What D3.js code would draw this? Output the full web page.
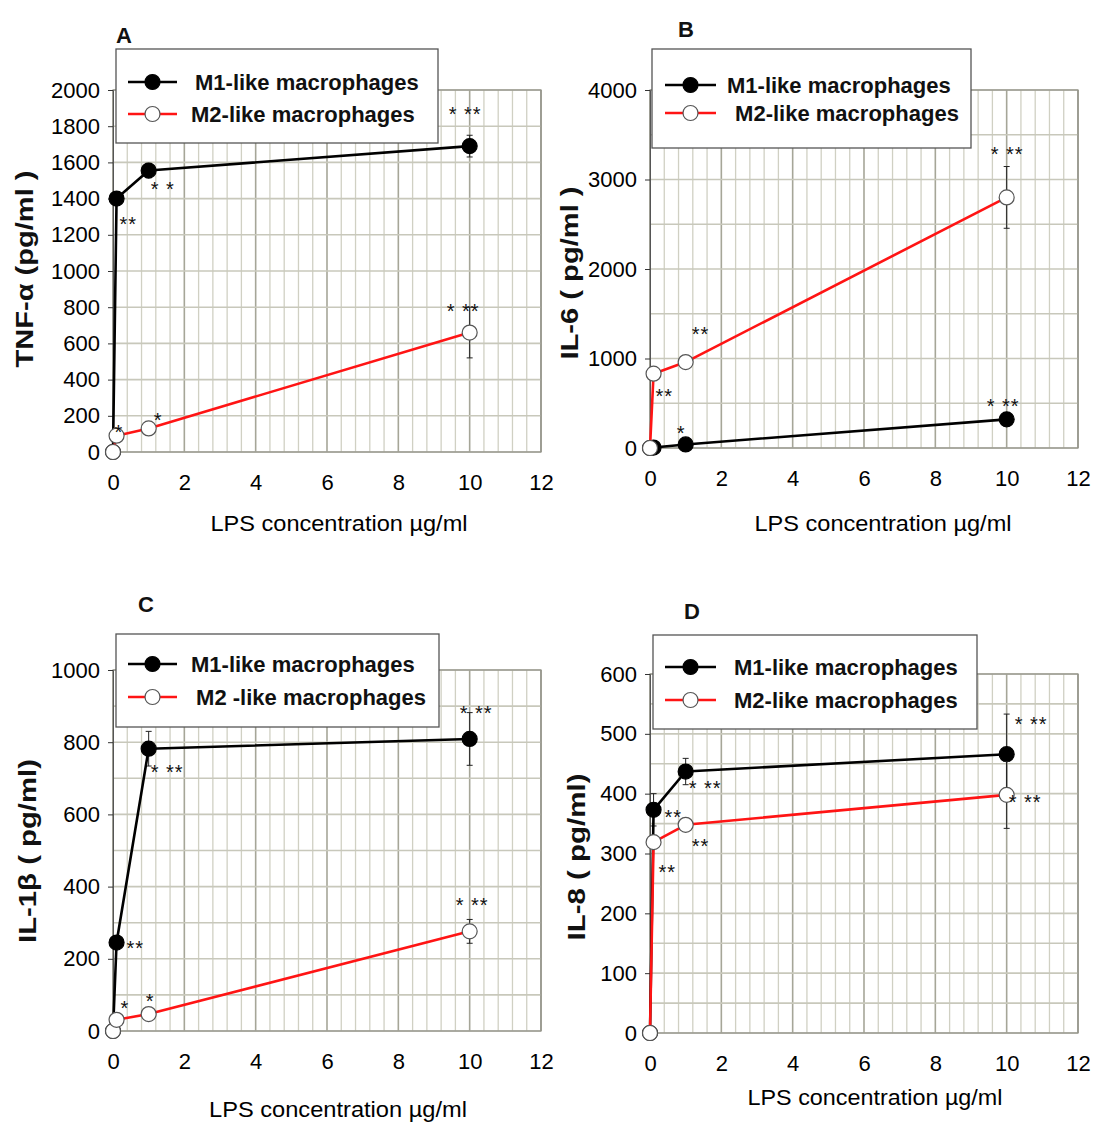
<!DOCTYPE html>
<html>
<head>
<meta charset="utf-8">
<script src="https://cdn.jsdelivr.net/npm/d3@7"></script>
<style>
  html, body { margin: 0; padding: 0; background: #fff; }
  svg { display: block; font-family: "Liberation Sans", Arial, Helvetica, sans-serif; }
</style>
</head>
<body>
<svg id="chart" width="1094" height="1124"></svg>
<script>
// LPS doses (µg/ml) shared by all four cytokine panels
const conc = [0, 0.1, 1, 10];
const xTickValues = [0, 2, 4, 6, 8, 10, 12];

// TNF-α (pg/ml)
const tnfM1 = [0, 1400, 1555, 1690];
const tnfM1Err = [0, 0, 40, 60];
const tnfM2 = [0, 90, 130, 660];
const tnfM2Err = [0, 0, 0, 140];
const tnfM1Sig = ["", "**", "* *", "* **"];
const tnfM2Sig = ["", "*", "*", "* **"];
const tnfTicks = [0, 200, 400, 600, 800, 1000, 1200, 1400, 1600, 1800, 2000];

// IL-6 (pg/ml)
const il6M1 = [0, 5, 40, 320];
const il6M1Err = [0, 0, 0, 0];
const il6M2 = [0, 830, 960, 2800];
const il6M2Err = [0, 0, 0, 345];
const il6M1Sig = ["", "", "*", "* **"];
const il6M2Sig = ["", "**", "**", "* **"];
const il6Ticks = [0, 1000, 2000, 3000, 4000];

// IL-1β (pg/ml)
const il1bM1 = [0, 245, 782, 809];
const il1bM1Err = [0, 0, 48, 73];
const il1bM2 = [0, 31, 47, 276];
const il1bM2Err = [0, 0, 0, 33];
const il1bM1Sig = ["", "**", "* **", "* **"];
const il1bM2Sig = ["", "*", "*", "* **"];
const il1bTicks = [0, 200, 400, 600, 800, 1000];

// IL-8 (pg/ml)
const il8M1 = [0, 373, 437, 466];
const il8M1Err = [0, 27, 22, 67];
const il8M2 = [0, 319, 348, 398];
const il8M2Err = [0, 0, 0, 56];
const il8M1Sig = ["", "**", "* **", "* **"];
const il8M2Sig = ["", "**", "**", "* **"];
const il8Ticks = [0, 100, 200, 300, 400, 500, 600];

const xTitle = "LPS concentration \u00b5g/ml";

// Layout of each panel
const panels = [
  {
    letter: "A", letterPos: [116, 43],
    box: { left: 113, right: 541, top: 90, bottom: 452 },
    yMax: 2000, gridStep: 200, ticks: tnfTicks,
    yTitle: "TNF-\u03b1 (pg/ml )", yTitlePos: [33, 269], yTitleLen: 197,
    xTitlePos: [339, 531], xTitleLen: 257,
    legend: { x: 116, y: 49, w: 322, h: 94, x1: 128, x2: 177, rows: [82, 114], textX: [195, 191],
              labels: ["M1-like macrophages", "M2-like macrophages"] },
    m1: tnfM1, m1Err: tnfM1Err, m1Sig: tnfM1Sig,
    m2: tnfM2, m2Err: tnfM2Err, m2Sig: tnfM2Sig,
    m1SigOff: [null, [3, 21], [2, 14], [-21, -36]],
    m2SigOff: [null, [-2, -8], [5, -12], [-23, -26]]
  },
  {
    letter: "B", letterPos: [678, 37],
    box: { left: 650, right: 1078, top: 90, bottom: 448 },
    yMax: 4000, gridStep: 500, ticks: il6Ticks,
    yTitle: "IL-6 ( pg/ml )", yTitlePos: [578, 273], yTitleLen: 173,
    xTitlePos: [883, 531], xTitleLen: 257,
    legend: { x: 652, y: 49, w: 319, h: 99, x1: 665, x2: 716, rows: [85, 113], textX: [727, 729],
              labels: ["M1-like macrophages", "\u00a0M2-like macrophages"] },
    m1: il6M1, m1Err: il6M1Err, m1Sig: il6M1Sig,
    m2: il6M2, m2Err: il6M2Err, m2Sig: il6M2Sig,
    m1SigOff: [null, null, [-9, -15], [-20, -17]],
    m2SigOff: [null, [2, 18], [6, -32], [-16, -47]]
  },
  {
    letter: "C", letterPos: [138, 612],
    box: { left: 113, right: 541, top: 670, bottom: 1031 },
    yMax: 1000, gridStep: 100, ticks: il1bTicks,
    yTitle: "IL-1\u03b2 ( pg/ml)", yTitlePos: [36, 851], yTitleLen: 184,
    xTitlePos: [338, 1117], xTitleLen: 258,
    legend: { x: 116, y: 634, w: 323, h: 93, x1: 128, x2: 177, rows: [664, 697], textX: [191, 190],
              labels: ["M1-like macrophages", "\u00a0M2 -like macrophages"] },
    m1: il1bM1, m1Err: il1bM1Err, m1Sig: il1bM1Sig,
    m2: il1bM2, m2Err: il1bM2Err, m2Sig: il1bM2Sig,
    m1SigOff: [null, [10, 1], [2, 19], [-10, -30]],
    m2SigOff: [null, [4, -16], [-3, -17], [-14, -30]]
  },
  {
    letter: "D", letterPos: [684, 619],
    box: { left: 650, right: 1078, top: 674, bottom: 1033 },
    yMax: 600, gridStep: 50, ticks: il8Ticks,
    yTitle: "IL-8 ( pg/ml)", yTitlePos: [585, 857], yTitleLen: 167,
    xTitlePos: [875, 1105], xTitleLen: 255,
    legend: { x: 653, y: 635, w: 324, h: 94, x1: 665, x2: 716, rows: [667, 700], textX: [734, 734],
              labels: ["M1-like macrophages", "M2-like macrophages"] },
    m1: il8M1, m1Err: il8M1Err, m1Sig: il8M1Sig,
    m2: il8M2, m2Err: il8M2Err, m2Sig: il8M2Sig,
    m1SigOff: [null, [11, 3], [3, 12], [8, -34]],
    m2SigOff: [null, [5, 26], [6, 17], [2, 3]]
  }
];

const RED = "#ff1414";
const svg = d3.select("#chart");

panels.forEach(p => {
  const g = svg.append("g");
  const x = d3.scaleLinear().domain([0, 12]).range([p.box.left, p.box.right]);
  const y = d3.scaleLinear().domain([0, p.yMax]).range([p.box.bottom, p.box.top]);

  // grid: fine vertical lines every 0.4, stronger ones at every 2
  const vMinor = d3.range(0, 12.0001, 0.4).map(v => +v.toFixed(1));
  g.append("g").selectAll("line").data(vMinor).join("line")
    .attr("x1", d => x(d)).attr("x2", d => x(d))
    .attr("y1", y(0)).attr("y2", y(p.yMax))
    .attr("stroke", d => (Math.abs(d % 2) < 1e-6 ? "#a6a698" : "#d0d0c3"))
    .attr("stroke-width", d => (Math.abs(d % 2) < 1e-6 ? 1.6 : 1.3));

  const hLines = d3.range(0, p.yMax + 0.001, p.gridStep);
  g.append("g").selectAll("line").data(hLines).join("line")
    .attr("x1", x(0)).attr("x2", x(12))
    .attr("y1", d => y(d)).attr("y2", d => y(d))
    .attr("stroke", "#c8c8bb").attr("stroke-width", 1.6);

  // plot frame
  g.append("rect")
    .attr("x", x(0)).attr("y", y(p.yMax))
    .attr("width", x(12) - x(0)).attr("height", y(0) - y(p.yMax))
    .attr("fill", "none").attr("stroke", "#8d8d84").attr("stroke-width", 1.2);

  // y axis
  const yAxis = g.append("g").attr("transform", `translate(${x(0)},0)`)
    .call(d3.axisLeft(y).tickValues(p.ticks).tickSize(5).tickPadding(8).tickFormat(d3.format("d")));
  yAxis.select(".domain").attr("stroke", "#555");
  yAxis.selectAll(".tick line").attr("stroke", "#333");
  yAxis.selectAll("text").attr("font-size", 22).attr("fill", "#000");

  // x axis labels
  const xAxis = g.append("g").attr("transform", `translate(0,${y(0)})`)
    .call(d3.axisBottom(x).tickValues(xTickValues).tickSize(0).tickPadding(22).tickFormat(d3.format("d")));
  xAxis.select(".domain").remove();
  xAxis.selectAll("text").attr("font-size", 22).attr("fill", "#000");

  // axis titles
  g.append("text")
    .attr("transform", `translate(${p.yTitlePos[0]},${p.yTitlePos[1]}) rotate(-90)`)
    .attr("text-anchor", "middle")
    .attr("font-size", 24).attr("font-weight", "bold").attr("fill", "#111")
    .attr("textLength", p.yTitleLen).attr("lengthAdjust", "spacingAndGlyphs")
    .text(p.yTitle);

  g.append("text")
    .attr("x", p.xTitlePos[0]).attr("y", p.xTitlePos[1])
    .attr("text-anchor", "middle")
    .attr("font-size", 22).attr("fill", "#000")
    .attr("textLength", p.xTitleLen).attr("lengthAdjust", "spacingAndGlyphs")
    .text(xTitle);

  // panel letter
  g.append("text")
    .attr("x", p.letterPos[0]).attr("y", p.letterPos[1])
    .attr("font-size", 22).attr("font-weight", "bold").attr("fill", "#111")
    .text(p.letter);

  const line = d3.line().x(d => x(d[0])).y(d => y(d[1]));

  const drawSeries = (vals, errs, sigs, offs, color, filled) => {
    const pts = conc.map((c, i) => [c, vals[i], errs[i], sigs[i], offs[i]]);
    // error bars
    const eb = g.append("g").attr("stroke", "#222").attr("stroke-width", 1);
    pts.filter(d => d[2] > 0).forEach(d => {
      eb.append("line").attr("x1", x(d[0])).attr("x2", x(d[0]))
        .attr("y1", y(d[1] - d[2])).attr("y2", y(d[1] + d[2]));
      [d[1] - d[2], d[1] + d[2]].forEach(v => {
        eb.append("line").attr("x1", x(d[0]) - 3).attr("x2", x(d[0]) + 3)
          .attr("y1", y(v)).attr("y2", y(v));
      });
    });
    // connecting line
    g.append("path").datum(pts).attr("d", line)
      .attr("fill", "none").attr("stroke", color).attr("stroke-width", 2.6)
      .attr("stroke-linejoin", "round");
    // markers
    g.append("g").selectAll("circle").data(pts).join("circle")
      .attr("cx", d => x(d[0])).attr("cy", d => y(d[1])).attr("r", 7.5)
      .attr("fill", filled ? "#000" : "#fff")
      .attr("stroke", filled ? "#000" : "#555").attr("stroke-width", 1.2);
    // significance stars
    g.append("g").selectAll("text").data(pts.filter(d => d[3] && d[4])).join("text")
      .attr("x", d => x(d[0]) + d[4][0])
      .attr("y", d => y(d[1]) + d[4][1] + 11)
      .attr("font-size", 20).attr("letter-spacing", 1).attr("fill", "#111")
      .text(d => d[3]);
  };

  drawSeries(p.m1, p.m1Err, p.m1Sig, p.m1SigOff, "#000", true);
  drawSeries(p.m2, p.m2Err, p.m2Sig, p.m2SigOff, RED, false);

  // legend
  const L = p.legend;
  const lg = g.append("g");
  lg.append("rect").attr("x", L.x).attr("y", L.y).attr("width", L.w).attr("height", L.h)
    .attr("fill", "#fff").attr("stroke", "#555").attr("stroke-width", 1.3);
  const styles = [{ color: "#000", fill: "#000", stroke: "#000" }, { color: RED, fill: "#fff", stroke: "#555" }];
  L.rows.forEach((ry, i) => {
    lg.append("line").attr("x1", L.x1).attr("x2", L.x2).attr("y1", ry).attr("y2", ry)
      .attr("stroke", styles[i].color).attr("stroke-width", 2.6);
    lg.append("circle").attr("cx", (L.x1 + L.x2) / 2).attr("cy", ry).attr("r", 7.5)
      .attr("fill", styles[i].fill).attr("stroke", styles[i].stroke).attr("stroke-width", 1.2);
    lg.append("text").attr("x", L.textX[i]).attr("y", ry + 8)
      .attr("font-size", 22).attr("font-weight", "bold").attr("fill", "#111")
      .text(L.labels[i]);
  });
});
</script>
</body>
</html>
